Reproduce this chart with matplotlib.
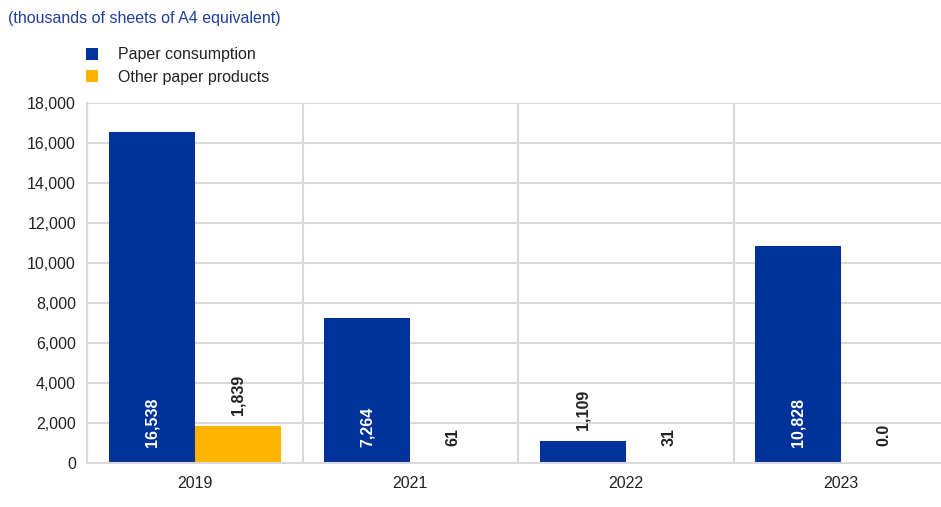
import matplotlib.pyplot as plt
import numpy as np

plt.rcParams['font.family'] = ['Liberation Sans', 'DejaVu Sans']

# values
years = ['2019', '2021', '2022', '2023']
paper = [16538, 7264, 1109, 10828]
other = [1839, 61, 31, 0.0]
paper_labels = ['16,538', '7,264', '1,109', '10,828']
other_labels = ['1,839', '61', '31', '0.0']

blue = '#003299'
yellow = '#FFB400'
grid_col = '#d9d9d9'
text_col = '#222222'
fs = 11.5

fig = plt.figure(figsize=(9.41, 5.07), dpi=100)
ax = fig.add_axes([87 / 941, 1 - 463 / 507, 862 / 941, 360 / 507])

x = np.arange(len(years))
w = 0.4
b1 = ax.bar(x - w / 2, paper, w, color=blue, label='Paper consumption', zorder=3)
b2 = ax.bar(x + w / 2, other, w, color=yellow, label='Other paper products', zorder=3)

ax.set_xlim(-0.5, len(years) - 0.5)
ax.set_ylim(0, 18000)
ax.set_yticks(np.arange(0, 18001, 2000))
ax.set_yticklabels([f'{v:,}' for v in range(0, 18001, 2000)])
ax.set_xticks(x)
ax.set_xticklabels(years)

# vertical separators between the categories
ax.set_xticks(np.arange(-0.5, len(years)), minor=True)
ax.grid(axis='y', color=grid_col, lw=1.5, zorder=0)
ax.grid(axis='x', which='minor', color=grid_col, lw=1.5, zorder=0)
ax.tick_params(axis='both', which='both', length=0, labelsize=fs, colors=text_col)
ax.tick_params(axis='x', pad=9)
ax.tick_params(axis='y', pad=8)
for s in ['top', 'right']:
    ax.spines[s].set_visible(False)
for s in ['left', 'bottom']:
    ax.spines[s].set_color(grid_col)
    ax.spines[s].set_linewidth(1.5)
    ax.spines[s].set_zorder(3.5)


# value labels: big bars get white text at the base, small ones black text above
def put_labels(bars, vals, labels):
    for bar, v, lab in zip(bars, vals, labels):
        cx = bar.get_x() + bar.get_width() / 2
        if v > 5000:
            ax.annotate(lab, (cx, 0), xytext=(0, 11.5), textcoords='offset points',
                        rotation=90, ha='center', va='bottom', color='white',
                        fontsize=fs, fontweight='bold', zorder=4)
        else:
            off = max(v / 1000 * 20 * 0.72 + 8, 12)
            ax.annotate(lab, (cx, 0), xytext=(0, off), textcoords='offset points',
                        rotation=90, ha='center', va='bottom', color=text_col,
                        fontsize=fs, fontweight='bold', zorder=4)


put_labels(b1, paper, paper_labels)
put_labels(b2, other, other_labels)

fig.text(8 / 941, 1 - 19 / 507, '(thousands of sheets of A4 equivalent)',
         color='#1f3f9f', fontsize=fs, va='center', ha='left')

fig.legend(loc='upper left', bbox_to_anchor=(80 / 941, 1 - 41 / 507),
           frameon=False, fontsize=fs, handlelength=0.75, handleheight=0.75,
           handletextpad=1.2, labelspacing=0.45, borderaxespad=0,
           labelcolor=text_col)

fig.savefig('out.png', dpi=100)
